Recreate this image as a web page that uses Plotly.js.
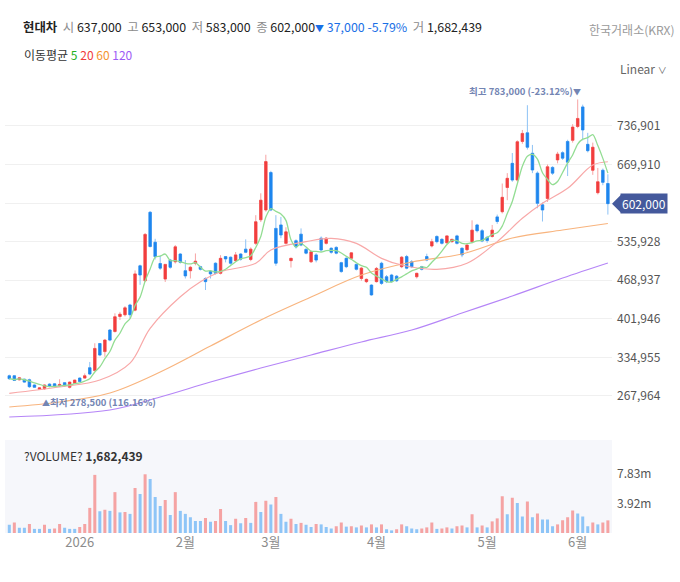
<!DOCTYPE html>
<html><head><meta charset="utf-8">
<script src="https://cdn.plot.ly/plotly-3.0.1.min.js"></script>
<style>html,body{margin:0;padding:0;background:#fff;}#chart{width:680px;height:582px;}</style>
</head><body><div id="chart"></div>
<script>
const stockName = '현대차';
const exchangeName = '한국거래소(KRX)';
const maLabel = '이동평균';
const volumeLabel = '?VOLUME?';
const scaleLabel = 'Linear';

const dates = [
'2025-12-10','2025-12-11','2025-12-12','2025-12-15','2025-12-16','2025-12-17','2025-12-18','2025-12-19','2025-12-22','2025-12-23','2025-12-24','2025-12-26','2025-12-29','2025-12-30',
'2026-01-02','2026-01-05','2026-01-06','2026-01-07','2026-01-08','2026-01-09','2026-01-12','2026-01-13','2026-01-14','2026-01-15','2026-01-16','2026-01-19','2026-01-20','2026-01-21','2026-01-22','2026-01-23','2026-01-26','2026-01-27','2026-01-28','2026-01-29','2026-01-30',
'2026-02-02','2026-02-03','2026-02-04','2026-02-05','2026-02-06','2026-02-09','2026-02-10','2026-02-11','2026-02-12','2026-02-13','2026-02-19','2026-02-20','2026-02-23','2026-02-24','2026-02-25','2026-02-26','2026-02-27',
'2026-03-03','2026-03-04','2026-03-05','2026-03-06','2026-03-09','2026-03-10','2026-03-11','2026-03-12','2026-03-13','2026-03-16','2026-03-17','2026-03-18','2026-03-19','2026-03-20','2026-03-23','2026-03-24','2026-03-25','2026-03-26','2026-03-27','2026-03-30','2026-03-31',
'2026-04-01','2026-04-02','2026-04-03','2026-04-06','2026-04-07','2026-04-08','2026-04-09','2026-04-10','2026-04-13','2026-04-14','2026-04-15','2026-04-16','2026-04-17','2026-04-20','2026-04-21','2026-04-22','2026-04-23','2026-04-24','2026-04-27','2026-04-28','2026-04-29','2026-04-30',
'2026-05-04','2026-05-06','2026-05-07','2026-05-08','2026-05-11','2026-05-12','2026-05-13','2026-05-14','2026-05-15','2026-05-18','2026-05-19','2026-05-20','2026-05-21','2026-05-22','2026-05-26','2026-05-27','2026-05-28','2026-05-29',
'2026-06-01','2026-06-02','2026-06-04','2026-06-05','2026-06-08','2026-06-09','2026-06-10'];

const open = [303000,303000,296000,297000,296000,287000,279500,280500,288500,289000,285500,291000,283000,290000,
299000,299000,317000,312000,359000,345000,382500,380000,406000,409000,426000,417000,494000,468000,587000,535000,498000,471000,504000,501000,514500,
485500,485500,498500,492500,472000,484000,498500,481000,510000,509000,503000,514500,523000,505000,533000,574000,591000,
656000,559000,565000,533000,503000,537500,549000,522500,501000,513000,542000,533000,524500,526000,499500,507000,507000,496500,472000,466500,460500,
466500,498500,475000,478000,476000,492500,510000,501000,475000,492500,510000,528500,545000,540000,534000,536000,546000,524500,522000,536000,565000,555000,
543500,545000,579000,588000,630000,672000,643000,710000,725000,689500,655000,600000,611000,665000,678000,690500,710000,712000,
736000,770000,705000,660000,621000,660000,637000];
const high = [305000,304000,301000,298000,298000,288000,283000,288000,290000,290000,297000,292000,293000,296000,
300000,307000,327000,359500,360000,367000,384000,411500,414000,424000,428000,486000,496000,551000,589000,541000,512000,497000,506000,530000,516000,
504000,494000,515500,494000,474000,486000,500000,512500,511000,510000,518000,516000,540000,526000,582000,620000,687000,
659000,582000,579000,561000,508000,540000,559000,525000,520000,516000,545000,544000,526000,528000,501000,509000,518000,498000,492000,472000,462000,
492000,501000,478000,480000,478000,511000,513000,504000,482000,494000,515000,541000,547000,542000,547000,541000,548000,526000,532000,573000,567000,558000,
546000,565000,583000,637000,655000,690000,712000,730000,773000,704000,658000,604000,670000,667000,692000,693000,713000,740000,
783000,774000,725000,708000,664000,663000,653000];
const low = [296000,294000,295000,291000,282000,282000,279000,278500,283000,284000,284000,284500,281000,289000,
292000,298000,304000,311000,337000,336000,363000,378000,400000,406000,402000,415000,461000,466000,526000,505000,487000,466000,489000,498000,498000,
472000,472000,495000,486000,452000,472000,479000,479000,500000,496000,501000,503000,516000,502000,530000,570000,588000,
589000,494000,542000,531000,491000,524000,528000,514000,499000,500000,519000,531000,515000,514000,482000,490000,505000,486000,468000,464000,442000,
465000,461000,464000,465000,466000,490000,488000,490000,472000,486000,502000,526000,533000,531000,532000,534000,531000,509000,519000,533000,552000,535000,
534000,543000,567000,585000,608000,640000,640000,706000,696000,655000,594000,571000,605000,652000,672000,678000,650000,708000,
733000,712000,691000,652000,618000,634000,583000];
const close = [298000,295000,299500,292000,284000,283000,282000,287000,285000,285000,288000,285500,292000,295500,
293000,303000,306000,350500,339000,365000,365000,405500,410000,421000,409000,480000,478000,548500,527500,510000,490000,496500,491500,527000,500000,
476500,491500,502000,488000,466500,480000,481000,507000,506000,498500,513000,505500,517500,523000,570500,608000,675000,
591000,498500,547500,553000,507000,527000,530000,516000,518500,504000,521500,542000,517500,516000,484000,492500,516500,488000,490000,470500,443500,
489500,463500,466500,466500,468000,509000,490000,492500,481000,488000,504000,536000,536000,533000,546000,540000,533000,513000,530000,556000,555000,537000,
538000,556000,571000,613000,646000,643000,709500,724000,700000,660500,602500,591000,666000,655000,688000,681000,674000,735000,
750000,730000,694000,700000,640000,639000,602000];
const volume = [1100000,1400000,700000,700000,1200000,550000,550000,1100000,550000,600000,1200000,700000,550000,550000,
800000,1200000,3350000,7750000,2900000,3100000,2950000,5450000,2750000,2800000,2550000,6000000,5200000,7830000,7200000,4800000,3600000,4400000,2400000,5450000,2950000,
2550000,2100000,1600000,1600000,2000000,1500000,1600000,3200000,1600000,1050000,1900000,1300000,2000000,1350000,4150000,2800000,4300000,
3800000,4800000,2550000,1500000,1900000,1200000,1350000,1100000,800000,1200000,1150000,800000,600000,900000,1400000,850000,900000,750000,1000000,750000,1150000,
750000,1150000,500000,350000,500000,1150000,900000,600000,500000,600000,750000,1400000,550000,600000,750000,600000,900000,1000000,750000,2500000,750000,1000000,
750000,1550000,1950000,4900000,2500000,4700000,4000000,2200000,4200000,2100000,2600000,1800000,1800000,900000,1150000,1700000,2100000,3000000,
2600000,2200000,900000,1400000,1150000,1400000,1682439];

const ma20Dates = ['2025-12-10','2025-12-24','2026-01-08','2026-01-16','2026-01-22','2026-01-30','2026-02-05','2026-02-11','2026-02-25','2026-03-03','2026-03-12','2026-03-19','2026-03-26','2026-04-02','2026-04-08','2026-04-17','2026-04-27','2026-05-07','2026-05-14','2026-05-20','2026-05-28','2026-06-05','2026-06-10'];
const ma20Vals = [272600,283500,295600,325000,385500,440400,466400,483800,498400,521500,536000,541800,533000,507000,495400,488000,498400,536000,576500,602600,628600,669000,674800];
const ma60Dates = ['2025-12-10','2025-12-24','2026-01-12','2026-01-26','2026-02-09','2026-02-26','2026-03-13','2026-03-27','2026-04-10','2026-04-24','2026-05-12','2026-05-27','2026-06-10'];
const ma60Vals = [248800,257500,273100,309600,354700,399900,439800,478000,500600,514500,542300,556200,567500];
const ma120Dates = ['2025-12-10','2026-01-12','2026-01-26','2026-02-09','2026-02-26','2026-03-13','2026-03-27','2026-04-10','2026-04-24','2026-05-12','2026-05-27','2026-06-10'];
const ma120Vals = [231400,243600,266100,292200,316500,339100,361700,382500,412000,441600,472800,498900];

const yTicks = [267964,334955,401946,468937,535928,602919,669910,736901];
const monthTickDates = ['2026-01-02','2026-02-02','2026-03-03','2026-04-01','2026-05-04','2026-06-01'];
const monthTickText = ['2026','2월','3월','4월','5월','6월'];

// ---- build ----
const FONT = 'Noto Sans CJK KR, Noto Sans, sans-serif';
const W=680, H=582, ML=5, MR=68, MT=85, MB=49;
const px = x => (x-ML)/(W-ML-MR);
const py = y => (H-MB-y)/(H-MT-MB);
const fmt = v => Math.round(v).toLocaleString('en-US');

const n = close.length;
const last = n-1;
const bodyHi = open.map((o,i)=>Math.max(o,close[i]));
const bodyLo = open.map((o,i)=>Math.min(o,close[i]));
const ma5 = close.map((c,i)=>{const s=close.slice(Math.max(0,i-4),i+1);return s.reduce((a,b)=>a+b,0)/s.length;});
const volColors = volume.map((v,i)=> i>0 && v>volume[i-1] ? '#f5a3a3' : '#8ec5f7');
// tick labels hidden behind the current-price tag (gridline stays)
const yTickText = yTicks.map(v => Math.abs(v-close[last]) < 15000 ? '' : fmt(v));

const UP='#f23e3e', DN='#1e86ee', UPL='#f7a3a3', DNL='#8dc2f5';
const traces = [
 {type:'candlestick', x:dates, open:open, high:high, low:low, close:close, xaxis:'x', yaxis:'y',
  increasing:{line:{color:UPL,width:1},fillcolor:UPL}, decreasing:{line:{color:DNL,width:1},fillcolor:DNL},
  whiskerwidth:0, hoverinfo:'skip', showlegend:false},
 {type:'candlestick', x:dates, open:open, high:bodyHi, low:bodyLo, close:close, xaxis:'x', yaxis:'y',
  increasing:{line:{color:UP,width:0.5},fillcolor:UP}, decreasing:{line:{color:DN,width:0.5},fillcolor:DN},
  whiskerwidth:0, hoverinfo:'skip', showlegend:false},
 {type:'scatter', mode:'lines', x:ma120Dates, y:ma120Vals, line:{color:'#b585f7',width:1.2,shape:'spline'}, hoverinfo:'skip', showlegend:false},
 {type:'scatter', mode:'lines', x:ma60Dates, y:ma60Vals, line:{color:'#f8b47e',width:1.2,shape:'spline'}, hoverinfo:'skip', showlegend:false},
 {type:'scatter', mode:'lines', x:ma20Dates, y:ma20Vals, line:{color:'#f8a8a8',width:1.2,shape:'spline'}, hoverinfo:'skip', showlegend:false},
 {type:'scatter', mode:'lines', x:dates, y:ma5, line:{color:'#93dd93',width:1.3,shape:'spline',smoothing:0.8}, hoverinfo:'skip', showlegend:false},
 {type:'bar', x:dates, y:volume, xaxis:'x', yaxis:'y2', marker:{color:volColors,line:{width:0}}, hoverinfo:'skip', showlegend:false}
];

const chg = close[last]-close[last-1];
const chgPct = chg/close[last-1]*100;
const gray = s => `<span style="color:#8c8c8c">${s}</span>`;
const chgColor = chg<0 ? '#1a6fe6' : '#e63b3b';
const arrow = chg<0 ? '▼' : '▲';
const headerText = `<b>${stockName}</b>  ${gray('시')} ${fmt(open[last])}  ${gray('고')} ${fmt(high[last])}  ${gray('저')} ${fmt(low[last])}  ${gray('종')} ${fmt(close[last])}<span style="color:${chgColor}"><span style="font-size:9px">${arrow}</span> ${fmt(Math.abs(chg))} ${chgPct.toFixed(2)}%</span>  ${gray('거')} ${fmt(volume[last])}`;

let maxIdx=0, minIdx=0;
high.forEach((v,i)=>{if(v>high[maxIdx])maxIdx=i;});
low.forEach((v,i)=>{if(v<low[minIdx])minIdx=i;});
const maxPct = ((close[last]-high[maxIdx])/high[maxIdx]*100).toFixed(2);
const minPct = ((close[last]-low[minIdx])/low[minIdx]*100).toFixed(2);
const maxVol = Math.max(...volume);
const TAG='#44599c';
const MARK={size:9.5,color:'#7385b3',weight:600};

const annotations = [
 {xref:'paper',yref:'paper',x:px(21),y:py(27),xanchor:'left',yanchor:'middle',showarrow:false,text:headerText,font:{size:12.4,color:'#222'}},
 {xref:'paper',yref:'paper',x:px(677),y:py(29),xanchor:'right',yanchor:'middle',showarrow:false,text:exchangeName,font:{size:12,color:'#9a9a9a'}},
 {xref:'paper',yref:'paper',x:px(22),y:py(55),xanchor:'left',yanchor:'middle',showarrow:false,
  text:`${maLabel} <span style="color:#22b022">5</span> <span style="color:#f03c3c">20</span> <span style="color:#f5942f">60</span> <span style="color:#9d5cf5">120</span>`,font:{size:12,color:'#333'}},
 {xref:'paper',yref:'paper',x:px(669),y:py(69),xanchor:'right',yanchor:'middle',showarrow:false,
  text:scaleLabel+' <span style="font-size:9px">∨</span>',font:{size:12,color:'#666'}},
 {xref:'x',yref:'y',x:dates[maxIdx],y:high[maxIdx],xanchor:'right',yanchor:'bottom',xshift:5,yshift:-1,showarrow:false,
  text:`최고 ${fmt(high[maxIdx])} (${maxPct}%)<span style="font-size:8px">▼</span>`,font:MARK},
 {xref:'x',yref:'y',x:dates[minIdx],y:low[minIdx],xanchor:'left',yanchor:'top',xshift:-5,yshift:-3,showarrow:false,
  text:`<span style="font-size:8px">▲</span>최저 ${fmt(low[minIdx])} (${minPct}%)`,font:MARK},
 {xref:'paper',yref:'y',x:1,y:close[last],xanchor:'left',yanchor:'middle',xshift:8,showarrow:false,
  text:fmt(close[last]),font:{size:12,color:'#fff'},bgcolor:TAG,borderpad:1},
 {xref:'paper',yref:'paper',x:px(22),y:py(455),xanchor:'left',yanchor:'middle',showarrow:false,
  text:`${volumeLabel} <b>${fmt(volume[last])}</b>`,font:{size:12,color:'#333'}}
];

const shapes = [
 {type:'rect',xref:'paper',yref:'paper',x0:0,x1:1,y0:0,y1:py(440),fillcolor:'#f6f7fb',line:{width:0},layer:'below'},
 {type:'path',xref:'paper',xsizemode:'pixel',xanchor:1,yref:'y',ysizemode:'pixel',yanchor:close[last],
  path:'M0,0 L9,9 L9,-9 Z',fillcolor:TAG,line:{width:0},layer:'above'}
];

const layout = {
 width:W, height:H, margin:{l:ML,r:MR,t:MT,b:MB,pad:0},
 paper_bgcolor:'#fff', plot_bgcolor:'rgba(0,0,0,0)',
 font:{family:FONT,size:12,color:'#333'},
 showlegend:false, boxgap:0.3, bargap:0.4, hovermode:false,
 xaxis:{type:'category',range:[-0.855,119.82],anchor:'y2',tickvals:monthTickDates,ticktext:monthTickText,
   showgrid:false,zeroline:false,showline:false,ticks:'',tickfont:{size:13,color:'#8c8c8c'},rangeslider:{visible:false},fixedrange:true},
 yaxis:{domain:[py(425),1],range:[217500,808100],side:'right',anchor:'x',tickvals:yTicks,ticktext:yTickText,
   showgrid:true,gridcolor:'#f0f0f0',gridwidth:1,zeroline:false,showline:false,ticks:'',ticklabelstandoff:4,
   tickfont:{size:12,color:'#555'},fixedrange:true},
 yaxis2:{domain:[0,py(440)],range:[0,12.4e6],side:'right',anchor:'x',tickvals:[maxVol,maxVol/2],
   ticktext:[(maxVol/1e6).toFixed(2)+'m',(maxVol/2e6).toFixed(2)+'m'],showgrid:false,zeroline:false,showline:false,ticks:'',ticklabelstandoff:4,
   tickfont:{size:12,color:'#555'},fixedrange:true},
 annotations:annotations, shapes:shapes
};

Plotly.newPlot('chart', traces, layout, {staticPlot:true, displayModeBar:false});
</script></body></html>
